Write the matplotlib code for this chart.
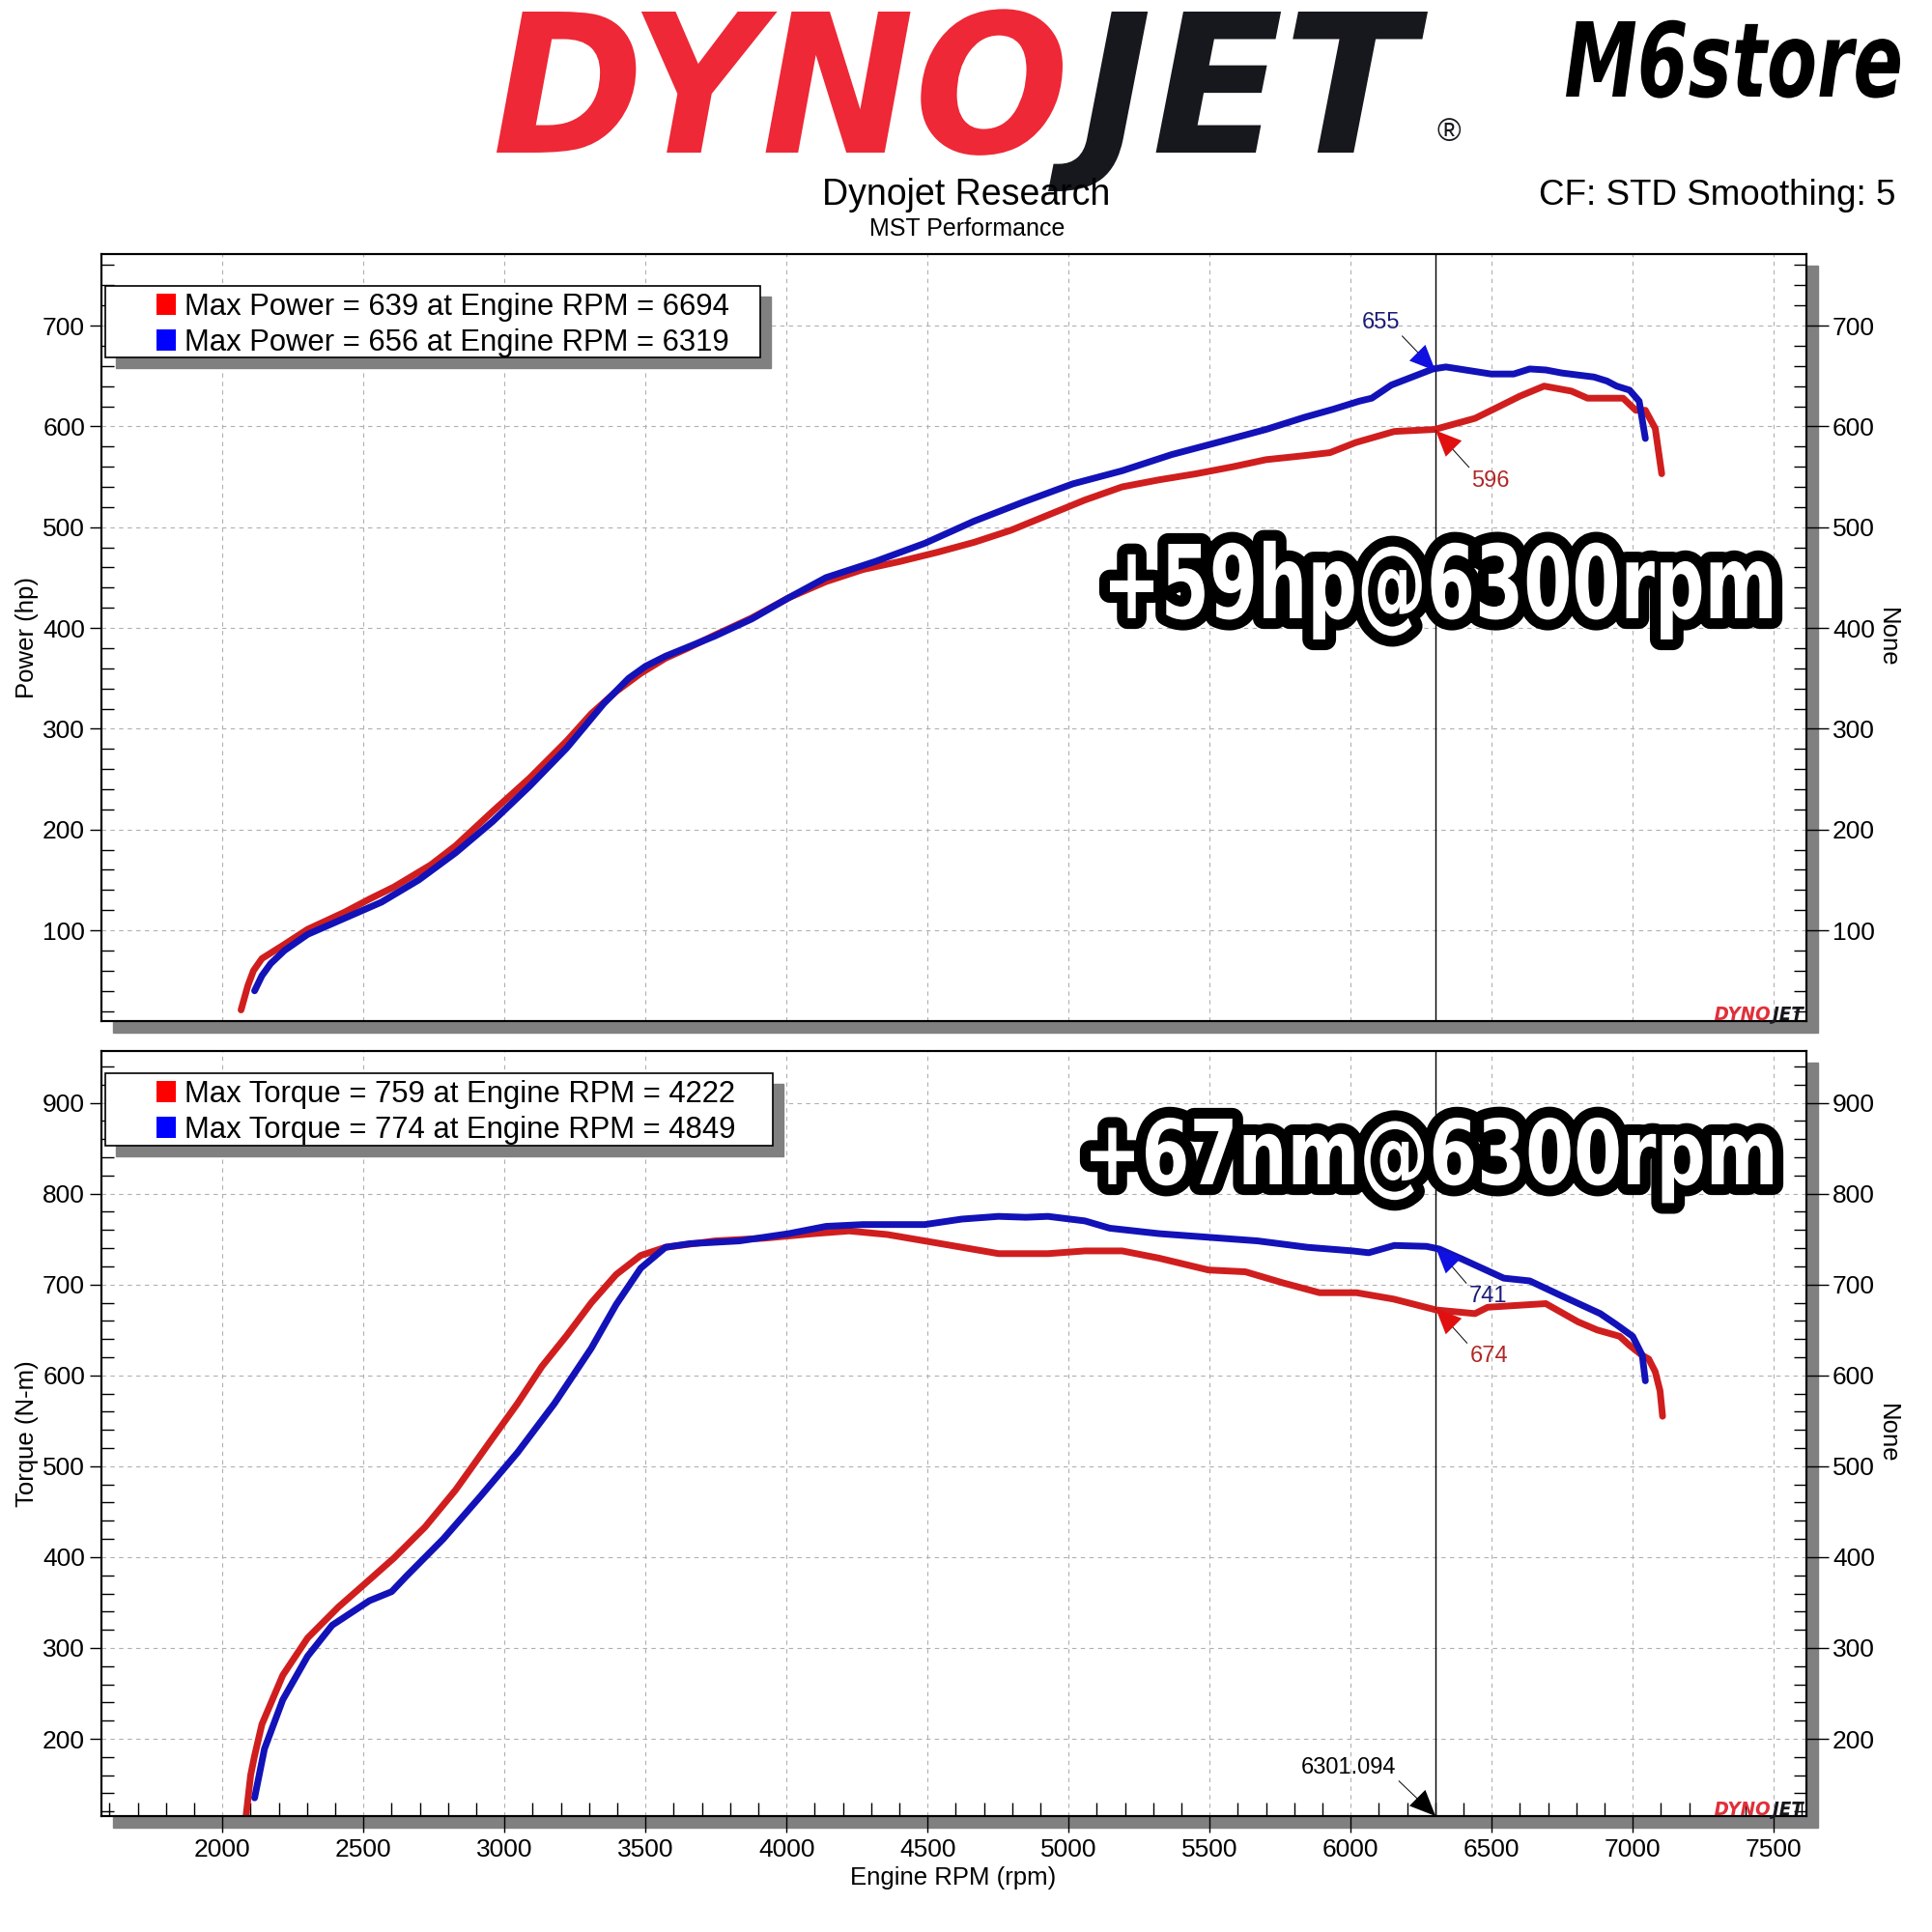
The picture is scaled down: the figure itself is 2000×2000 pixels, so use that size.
import matplotlib
matplotlib.use("Agg")
import matplotlib.pyplot as plt
from matplotlib.ticker import MultipleLocator
from matplotlib.patches import Rectangle, PathPatch
from matplotlib.textpath import TextPath
from matplotlib.font_manager import FontProperties
from matplotlib.transforms import Affine2D

plt.rcParams['font.family'] = ['Liberation Sans', 'DejaVu Sans']

# ---- data ----
red_pw_rpm = [2066, 2090, 2110, 2140, 2214, 2302, 2433, 2521, 2608, 2739, 2827, 2958, 3089,
              3221, 3308, 3396, 3483, 3571, 3650, 3746, 3877, 4008, 4140, 4271, 4402, 4533,
              4665, 4796, 4927, 5058, 5190, 5321, 5452, 5583, 5700, 5836, 5927, 6018, 6155,
              6298, 6441, 6521, 6600, 6686, 6783, 6840, 6966, 7011, 7045, 7080, 7103]
red_pw_hp = [21, 45, 60, 72, 85, 101, 118, 131, 143, 165, 184, 218, 251,
             288, 315, 337, 355, 370, 380, 393, 410, 430, 446, 458, 466, 475,
             485, 497, 512, 527, 540, 547, 553, 560, 567, 571, 574, 584, 595,
             597, 608, 619, 630, 640, 635, 628, 628, 616, 616, 598, 553]

blue_pw_rpm = [2114, 2140, 2171, 2220, 2302, 2433, 2564, 2696, 2827, 2958, 3089, 3221, 3352,
               3440, 3500, 3571, 3746, 3877, 4008, 4140, 4315, 4490, 4665, 4840, 5015, 5190,
               5365, 5540, 5700, 5836, 5938, 6030, 6075, 6144, 6292, 6338, 6498, 6578, 6635,
               6692, 6749, 6863, 6909, 6943, 6989, 7023, 7045]
blue_pw_hp = [40, 55, 67, 80, 96, 112, 128, 150, 177, 208, 243, 281, 325,
              350, 362, 372, 392, 409, 430, 450, 466, 484, 506, 525, 543, 556,
              572, 585, 597, 609, 617, 625, 628, 641, 657, 659, 652, 652, 657,
              656, 653, 649, 645, 640, 636, 625, 588]

red_tq_rpm = [2080, 2100, 2113, 2140, 2214, 2302, 2411, 2521, 2608, 2718, 2827, 2958, 3046,
              3133, 3221, 3308, 3396, 3483, 3571, 3746, 3921, 4096, 4222, 4358, 4490, 4621,
              4752, 4927, 5058, 5190, 5321, 5496, 5627, 5758, 5890, 6021, 6152, 6304, 6441,
              6486, 6692, 6806, 6874, 6954, 6989, 7034, 7057, 7080, 7097, 7106]
red_tq_nm = [105, 160, 180, 216, 270, 311, 345, 375, 399, 433, 474, 531, 569,
             610, 644, 680, 711, 732, 741, 748, 751, 756, 759, 755, 748, 741,
             734, 734, 737, 737, 729, 716, 714, 702, 691, 691, 684, 672, 668,
             675, 679, 659, 650, 643, 633, 622, 618, 604, 583, 555]

blue_tq_rpm = [2114, 2149, 2214, 2302, 2389, 2521, 2600, 2652, 2783, 2915, 3046, 3177, 3308,
               3396, 3483, 3571, 3658, 3833, 4008, 4140, 4271, 4490, 4621, 4752, 4849, 4927,
               5058, 5146, 5321, 5496, 5671, 5846, 6007, 6064, 6155, 6269, 6315, 6395, 6543,
               6635, 6738, 6885, 6942, 7000, 7034, 7045]
blue_tq_nm = [135, 189, 243, 291, 325, 352, 362, 379, 420, 467, 515, 569, 630,
              678, 718, 741, 745, 748, 756, 764, 766, 766, 772, 775, 774, 775,
              770, 762, 756, 752, 748, 741, 737, 735, 743, 742, 739, 728, 707,
              704, 689, 668, 656, 643, 622, 594]

max_power = [(639, 6694), (656, 6319)]
max_torque = [(759, 4222), (774, 4849)]
cursor_rpm = 6301.094
cursor_power = [596, 655]     # red, blue
cursor_torque = [674, 741]

RED = '#d01e1e'
BLUE = '#1212b8'
W = H = 2000


def fx(px):
    return px / W


def fy(py):
    return 1 - py / H


def fitted_path(s, prop, x0, x1, ytop, ybase):
    # text outline stretched into a pixel box (logos / big stickers)
    p = TextPath((0, 0), s, size=100, prop=prop)
    cap = TextPath((0, 0), 'H', size=100, prop=prop).get_extents()
    bb = p.get_extents()
    sx = (x1 - x0) / bb.width
    sy = (ybase - ytop) / cap.y1
    tr = (Affine2D().translate(-bb.x0, 0).scale(sx, sy)
          .translate(x0, H - ybase).scale(1 / W, 1 / H))
    return tr.transform_path(p)


fig = plt.figure(figsize=(20, 20), dpi=100)
bold = FontProperties(family='DejaVu Sans', weight='bold')
bold_it = FontProperties(family='DejaVu Sans', weight='bold', style='italic')

boxes = [(105, 263, 1870, 1057), (105, 1088, 1870, 1880)]
axes = []
for l, t, r, b in boxes:
    fig.add_artist(Rectangle((fx(l + 12), fy(b + 12)), (r - l) / W, (b - t) / H,
                             transform=fig.transFigure, color='#808080', zorder=-1))
    axes.append(fig.add_axes([fx(l), fy(b), (r - l) / W, (b - t) / H]))
ax1, ax2 = axes


def setup(ax, ylim, show_x):
    ax.set_xlim(1571, 7616)
    ax.set_ylim(*ylim)
    ax.xaxis.set_major_locator(MultipleLocator(500))
    ax.xaxis.set_minor_locator(MultipleLocator(100))
    ax.yaxis.set_major_locator(MultipleLocator(100))
    ax.yaxis.set_minor_locator(MultipleLocator(20))
    ax.grid(True, which='major', color='#b0b0b0', lw=0.8, ls=(0, (4, 4)))
    ax.set_axisbelow(True)
    for s in ax.spines.values():
        s.set_linewidth(1.5)
    ax.tick_params(axis='y', which='major', direction='out', length=8.6, width=1,
                   labelsize=19, pad=3.6, right=False)
    ax.tick_params(axis='y', which='minor', direction='in', length=9.4, width=1, right=False)
    if show_x:
        ax.tick_params(axis='x', which='major', direction='out', length=12.2, width=1,
                       labelsize=19, pad=4.3, top=False)
        ax.tick_params(axis='x', which='minor', direction='in', length=10, width=1, top=False)
    else:
        ax.tick_params(axis='x', which='both', bottom=False, top=False, labelbottom=False)
    tw = ax.twinx()
    tw.set_ylim(*ylim)
    tw.yaxis.set_major_locator(MultipleLocator(100))
    tw.yaxis.set_minor_locator(MultipleLocator(20))
    tw.tick_params(axis='y', which='major', direction='out', length=16.6, width=1,
                   labelsize=19, pad=2.9)
    tw.tick_params(axis='y', which='minor', direction='in', length=9.4, width=1)
    for s in tw.spines.values():
        s.set_linewidth(1.5)
    return tw


setup(ax1, (10, 771), False)
setup(ax2, (115, 957), True)

line_kw = dict(lw=5, solid_joinstyle='round', solid_capstyle='round', zorder=3)
ax1.plot(red_pw_rpm, red_pw_hp, color=RED, **line_kw)
ax1.plot(blue_pw_rpm, blue_pw_hp, color=BLUE, **line_kw)
ax2.plot(red_tq_rpm, red_tq_nm, color=RED, **line_kw)
ax2.plot(blue_tq_rpm, blue_tq_nm, color=BLUE, **line_kw)

for ax in axes:
    ax.axvline(cursor_rpm, color='black', lw=1.0, zorder=2.5)


def callout(ax, label, xy, dx, dy, relpos, head_color, text_color, xycoords='data'):
    ax.annotate(label, xy=xy, xycoords=xycoords, xytext=(dx, dy), textcoords='offset pixels',
                ha='center', va='center', fontsize=17, color=text_color, zorder=6,
                arrowprops=dict(arrowstyle='-', color='black', lw=0.7, relpos=relpos,
                                shrinkA=0, shrinkB=0))
    hx = -18 if dx < 0 else 18
    hy = 18 if dy > 0 else -18
    ax.annotate('', xy=xy, xycoords=xycoords, xytext=(hx, hy), textcoords='offset pixels',
                zorder=6,
                arrowprops=dict(arrowstyle='-|>,head_length=0.8,head_width=0.35',
                                mutation_scale=24, color=head_color, lw=0,
                                shrinkA=0, shrinkB=0))


callout(ax1, str(cursor_power[1]), (cursor_rpm, cursor_power[1]), -57, 50, (1, 0), '#1010e0', '#1c1c78')
callout(ax1, str(cursor_power[0]), (cursor_rpm, cursor_power[0]), 57, -52, (0, 1), '#e01010', '#b02828')
callout(ax2, str(cursor_torque[1]), (cursor_rpm, cursor_torque[1]), 54, -51, (0, 1), '#1010e0', '#1c1c78')
callout(ax2, str(cursor_torque[0]), (cursor_rpm, cursor_torque[0]), 55, -50, (0, 1), '#e01010', '#b02828')
callout(ax2, f'{cursor_rpm:.3f}', (cursor_rpm, 0), -90, 50, (1, 0), 'black', 'black',
        xycoords=('data', 'axes fraction'))


# legends with drop shadow
def legend_box(l, t, r, b, rows):
    fig.add_artist(Rectangle((fx(l + 11), fy(b + 11)), (r - l) / W, (b - t) / H,
                             transform=fig.transFigure, color='#808080', zorder=4))
    fig.add_artist(Rectangle((fx(l), fy(b)), (r - l) / W, (b - t) / H,
                             transform=fig.transFigure, fc='white', ec='black', lw=1.2, zorder=4.5))
    for i, (label, color) in enumerate(rows):
        yb = t + 30 + 37 * i
        fig.add_artist(Rectangle((fx(162), fy(yb)), 20 / W, 22 / H,
                                 transform=fig.transFigure, fc=color, ec='none', zorder=5))
        fig.text(fx(191), fy(yb), label, fontsize=22.3, ha='left', va='baseline', zorder=5)


legend_box(109, 296, 787, 370,
           [(f'Max Power = {v} at Engine RPM = {r}', c)
            for (v, r), c in zip(max_power, ['#ff0000', '#0000ff'])])
legend_box(109, 1111, 800, 1186,
           [(f'Max Torque = {v} at Engine RPM = {r}', c)
            for (v, r), c in zip(max_torque, ['#ff0000', '#0000ff'])])

# axis labels
fig.text(fx(28), fy(660), 'Power (hp)', rotation=90, ha='center', va='center', fontsize=18.5)
fig.text(fx(1954), fy(660), 'None', rotation=270, ha='center', va='center', fontsize=18.5)
fig.text(fx(28), fy(1484), 'Torque (N-m)', rotation=90, ha='center', va='center', fontsize=18.5)
fig.text(fx(1954), fy(1484), 'None', rotation=270, ha='center', va='center', fontsize=18.5)
fig.text(fx(987), fy(1944), 'Engine RPM (rpm)', ha='center', va='center', fontsize=18.5)

# header
fig.text(fx(1000), fy(212), 'Dynojet Research', ha='center', va='baseline', fontsize=27)
fig.text(fx(1001), fy(244), 'MST Performance', ha='center', va='baseline', fontsize=18)
fig.text(fx(1962), fy(212), 'CF: STD Smoothing: 5', ha='right', va='baseline', fontsize=26.5)

fig.add_artist(PathPatch(fitted_path('DYNO', bold_it, 514, 1100, 12, 158),
                         transform=fig.transFigure, fc='#ee2836', ec='none', zorder=3))
fig.add_artist(PathPatch(fitted_path('JET', bold_it, 1085, 1478, 12, 158),
                         transform=fig.transFigure, fc='#16181d', ec='none', zorder=3))
fig.text(fx(1500), fy(138), '\u00ae', ha='center', va='center', fontsize=24, color='#16181d')
fig.add_artist(PathPatch(fitted_path('M6store', bold_it, 1621, 1967, 22, 100),
                         transform=fig.transFigure, fc='black', ec='none', zorder=3))

# small watermarks in the corners
for dy in (0, 823):
    fig.add_artist(PathPatch(fitted_path('DYNO', bold_it, 1775, 1832, 1042 + dy, 1056 + dy),
                             transform=fig.transFigure, fc='#e0303a', ec='none', zorder=3))
    fig.add_artist(PathPatch(fitted_path('JET', bold_it, 1832, 1868, 1042 + dy, 1056 + dy),
                             transform=fig.transFigure, fc='#16181d', ec='none', zorder=3))

# big outlined stickers
for s, x0, x1, yt, yb in [('+59hp@6300rpm', 1149, 1834, 563, 640),
                          ('+67nm@6300rpm', 1129, 1835, 1158, 1226)]:
    path = fitted_path(s, bold, x0, x1, yt, yb)
    fig.add_artist(PathPatch(path, transform=fig.transFigure, fc='black', ec='black',
                             lw=16, joinstyle='round', zorder=10))
    fig.add_artist(PathPatch(path, transform=fig.transFigure, fc='white', ec='none', zorder=11))

fig.savefig('out.png', dpi=100)
